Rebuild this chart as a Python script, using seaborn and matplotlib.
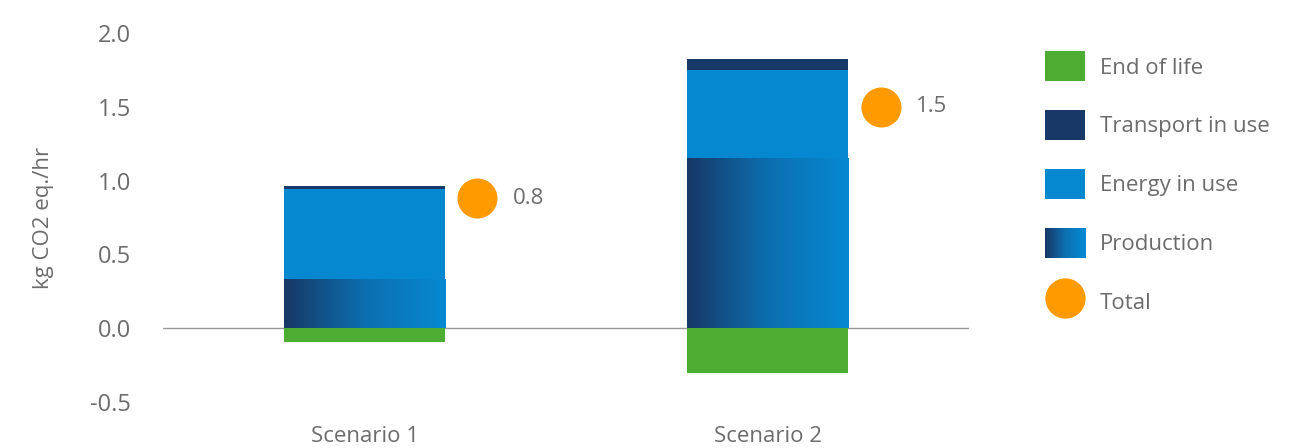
import numpy as np
import pandas as pd
import matplotlib
matplotlib.use('Agg')
import matplotlib.pyplot as plt
import seaborn as sns
import matplotlib.colors as mcolors
from matplotlib.patches import Rectangle, Patch
from matplotlib.lines import Line2D
from matplotlib.legend_handler import HandlerBase

scenarios = ['Scenario 1', 'Scenario 2']
end_of_life = [-0.095, -0.30]
production = [0.335, 1.15]
energy_in_use = [0.61, 0.60]
transport_in_use = [0.015, 0.07]
totals = [0.88, 1.50]
total_labels = ['0.8', '1.5']

green = '#4dad33'
navy = '#183868'
blue = '#0588cf'
orange = '#ff9a00'
text_col = '#6c6c6c'
prod_cmap = mcolors.LinearSegmentedColormap.from_list('prod', ['#173866', '#0c6fb0', '#0689d2'])

df = pd.DataFrame({'scenario': scenarios,
                   'eol': end_of_life,
                   'prod': production,
                   'energy': energy_in_use,
                   'transport': transport_in_use})
df['cum1'] = df['prod']
df['cum2'] = df['cum1'] + df['energy']
df['cum3'] = df['cum2'] + df['transport']

sns.set_style('white')
plt.rcParams['font.family'] = ['Open Sans', 'DejaVu Sans']

fig = plt.figure(figsize=(13.03, 4.48), dpi=100)
ax = fig.add_axes([0.125, 0.086, 0.619, 0.857])

# stacked bars: draw cumulative tops, largest first
bar_kw = dict(saturation=1, width=0.4, linewidth=0, edgecolor='none', ax=ax)
sns.barplot(data=df, x='scenario', y='cum3', color=navy, **bar_kw)
sns.barplot(data=df, x='scenario', y='cum2', color=blue, **bar_kw)
sns.barplot(data=df, x='scenario', y='cum1', color=blue, **bar_kw)
prod_bars = list(ax.containers[-1])
sns.barplot(data=df, x='scenario', y='eol', color=green, **bar_kw)

# gradient fill for production
grad = np.linspace(0, 1, 256).reshape(1, -1)
for p in prod_bars:
    x0, w, h = p.get_x(), p.get_width(), p.get_height()
    im = ax.imshow(grad, cmap=prod_cmap, aspect='auto', extent=[x0, x0 + w, 0, h],
                   zorder=p.get_zorder() + 0.1, interpolation='bicubic')
    im.set_clip_path(p)

# totals
xs = np.arange(len(scenarios)) + 0.28
ax.scatter(xs, totals, s=830, color=orange, zorder=5, linewidths=0)
for x, t, lab in zip(xs, totals, total_labels):
    ax.text(x + 0.088, t, lab, va='center', ha='left', fontsize=16, color=text_col)

ax.axhline(0, color='#9a9a9a', linewidth=1, zorder=0)
ax.set_xlim(-0.5, 1.5)
ax.set_ylim(-0.55, 2.05)
ax.set_yticks([-0.5, 0.0, 0.5, 1.0, 1.5, 2.0])
ax.set_yticklabels(['-0.5', '0.0', '0.5', '1.0', '1.5', '2.0'])
ax.tick_params(axis='y', length=0, pad=23, labelsize=17, labelcolor=text_col)
ax.tick_params(axis='x', length=0, pad=12, labelsize=16, labelcolor=text_col)
ax.set_xlabel('')
ax.set_ylabel('kg CO2 eq./hr', fontsize=16, color=text_col, labelpad=26)
sns.despine(ax=ax, left=True, bottom=True)


class GradientHandler(HandlerBase):
    def create_artists(self, legend, orig_handle, xdescent, ydescent, width, height, fontsize, trans):
        n = 40
        arts = []
        for i in range(n):
            r = Rectangle((-xdescent + i * width / n, -ydescent), width / n * 1.05, height,
                          facecolor=prod_cmap(i / (n - 1)), linewidth=0, transform=trans)
            arts.append(r)
        return arts


prod_handle = Patch(facecolor=blue, edgecolor='none')
handles = [Patch(facecolor=green, edgecolor='none'), Patch(facecolor=navy, edgecolor='none'),
           Patch(facecolor=blue, edgecolor='none'), prod_handle,
           Line2D([], [], marker='o', linestyle='', markersize=29, markerfacecolor=orange,
                  markeredgewidth=0)]
labels = ['End of life', 'Transport in use', 'Energy in use', 'Production', 'Total']
leg = fig.legend(handles, labels, loc='upper left', bbox_to_anchor=(0.787, 0.93),
                 frameon=False, fontsize=16, handlelength=1.8, handleheight=1.7,
                 labelspacing=1.3, handletextpad=0.65, labelcolor=text_col,
                 handler_map={prod_handle: GradientHandler()})

fig.savefig('out.png', dpi=100)
